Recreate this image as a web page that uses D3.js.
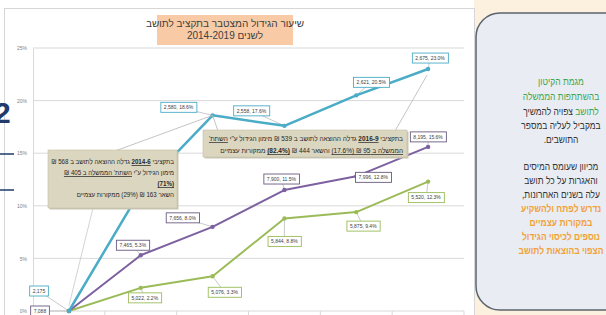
<!DOCTYPE html>
<html>
<head>
<meta charset="utf-8">
<script src="https://cdn.jsdelivr.net/npm/d3@7"></script>
<style>
body { margin: 0; background: #fff; }
svg { display: block; font-family: "Liberation Sans", Arial, sans-serif; }
</style>
</head>
<body>
<svg id="chart" width="606" height="315"></svg>
<script>
// ---- data ----
var years = ["2014", "2015", "2016", "2017", "2018", "2019"];
var yTicks = [0, 5, 10, 15, 20, 25];

// cumulative growth (%) per series
var tealPct   = [0, 11.5, 18.6, 17.6, 20.5, 23.0];
var purplePct = [0, 5.3, 8.0, 11.5, 12.8, 15.6];
var greenPct  = [0, 2.2, 3.3, 8.8, 9.4, 12.3];

// budget per resident (null = label not shown)
var tealSpend   = [2175, null, 2580, 2558, 2621, 2675];
var purpleSpend = [7088, 7465, 7656, 7900, 7996, 8195];
var greenSpend  = [null, 5022, 5076, 5844, 5875, 5520];

// label placement relative to its point (layout only)
var tealOff   = [[-30, -20], null, [-34, -8], [-33, -15], [15, -13], [2, -11]];
var purpleOff = [[-29, 0], [-8, -10], [-30, -9], [-3, -11], [17, 1], [0, -10]];
var greenOff  = [null, [4, 10], [12, 16], [0, 23], [7, 14], [-2, 16]];

var svg = d3.select("#chart");

/* slide background */
svg.append("rect").attr("width", 606).attr("height", 315).attr("fill", "#fff");
svg.append("rect").attr("x", 474).attr("y", 0).attr("width", 132).attr("height", 315)
	.attr("fill", "#fcf0de");

// white chart panel
svg.append("rect")
	.attr("x", 4.5).attr("y", 8.5).attr("width", 470).attr("height", 320)
	.attr("fill", "#fff").attr("stroke", "#d6d6d6");

// bits of the slide peeking in at the left
svg.append("text").attr("x", -6).attr("y", 123)
	.attr("font-size", 30).attr("font-weight", "bold").attr("fill", "#1f3a6b").text("2");
svg.selectAll(".stub").data([154, 190]).join("line")
	.attr("x1", 0).attr("x2", 14).attr("y1", d => d).attr("y2", d => d)
	.attr("stroke", "#1f3a6b").attr("stroke-width", 1.5);

// measure a string
function textWidth(str, fs, bold) {
	var t = svg.append("text").attr("font-size", fs).attr("direction", "rtl")
		.attr("font-weight", bold ? "bold" : null).text(str);
	var w = t.node().getComputedTextLength();
	t.remove();
	return w;
}

// one right-to-left line made of styled pieces, laid out piece by piece
function rtlLine(parent, parts, ax, ay, fs, align, sx) {
	var g = parent.append("g")
		.attr("transform", "translate(" + ax + "," + ay + ") scale(" + sx + ",1)");
	var gap = fs * 0.28;
	var items = parts.map(function(p) {
		var t = g.append("text")
			.attr("direction", "rtl").attr("text-anchor", "start")
			.attr("font-size", fs).attr("fill", p.c || "#262626")
			.text(p.t);
		if (p.b) t.attr("font-weight", "bold");
		if (p.u) t.attr("text-decoration", "underline");
		return { t: t, w: t.node().getComputedTextLength() };
	});
	var total = d3.sum(items, d => d.w) + gap * (items.length - 1);
	var cur = align == "center" ? total / 2 : 0;
	items.forEach(function(it) {
		it.t.attr("x", cur);
		cur -= it.w + gap;
	});
}

/* title */
svg.append("rect").attr("x", 157).attr("y", 15).attr("width", 136).attr("height", 30)
	.attr("fill", "#f8cba6");
var title = svg.append("text").attr("direction", "rtl").attr("text-anchor", "middle")
	.attr("font-size", 10).attr("fill", "#404040");
title.append("tspan").attr("x", 225).attr("y", 27).text("שיעור הגידול המצטבר בתקציב לתושב");
title.append("tspan").attr("x", 225).attr("y", 39).text("לשנים 2014-2019");

/* scales */
var x = d3.scaleBand().domain(years).range([33, 464]);
var cx = d => x(d) + x.bandwidth() / 2;
var y = d3.scaleLinear().domain([0, 25]).range([311, 48]);

// gridlines
svg.append("g").selectAll("line").data(yTicks.slice(1)).join("line")
	.attr("x1", 33).attr("x2", 464)
	.attr("y1", d => y(d)).attr("y2", d => y(d))
	.attr("stroke", "#d9d9d9").attr("stroke-width", 1);

var yAxis = svg.append("g").attr("transform", "translate(33,0)")
	.call(d3.axisLeft(y).tickValues(yTicks).tickFormat(d => d + "%").tickSize(0).tickPadding(6));
yAxis.select(".domain").attr("stroke", "#d9d9d9");
yAxis.selectAll("text").attr("font-size", 5).attr("fill", "#7f7f7f")
	.attr("font-family", "Liberation Sans, Arial, sans-serif");

// x axis line and category boundary ticks
svg.append("line").attr("x1", 33).attr("x2", 464).attr("y1", y(0)).attr("y2", y(0))
	.attr("stroke", "#d9d9d9");
svg.append("g").selectAll("line").data(years.slice(1).concat(["end"])).join("line")
	.attr("x1", d => d == "end" ? x.range()[1] : x(d))
	.attr("x2", d => d == "end" ? x.range()[1] : x(d))
	.attr("y1", y(0)).attr("y2", y(0) + 5)
	.attr("stroke", "#d9d9d9");

/* series */
var series = [
	{ pct: greenPct,  spend: greenSpend,  off: greenOff,  color: "#9bbb59", box: "#9bbb59", w: 2 },
	{ pct: purplePct, spend: purpleSpend, off: purpleOff, color: "#7d60a0", box: "#6a5a80", w: 2 },
	{ pct: tealPct,   spend: tealSpend,   off: tealOff,   color: "#4aacc6", box: "#4aacc6", w: 2.5 }
];

var line = d3.line()
	.x((d, i) => cx(years[i]))
	.y(d => y(d));

var fmt = d3.format(",");
function labelText(s, i) {
	if (s.spend[i] == null) return null;
	return i == 0 ? fmt(s.spend[i]) : fmt(s.spend[i]) + ", " + s.pct[i].toFixed(1) + "%";
}

// faint grey line behind the callout (from slide)
svg.append("line")
	.attr("x1", cx("2014")).attr("y1", y(0.5))
	.attr("x2", 93).attr("y2", 208)
	.attr("stroke", "#c8c8c8").attr("stroke-width", 0.8);

// leader lines
var leaders = svg.append("g");
series.forEach(function(s) {
	s.pct.forEach(function(v, i) {
		if (!labelText(s, i)) return;
		leaders.append("line")
			.attr("x1", cx(years[i])).attr("y1", y(v))
			.attr("x2", cx(years[i]) + s.off[i][0]).attr("y2", y(v) + s.off[i][1])
			.attr("stroke", "#a6a6a6").attr("stroke-width", 0.6);
	});
});

series.forEach(function(s) {
	svg.append("path").datum(s.pct)
		.attr("fill", "none")
		.attr("stroke", s.color)
		.attr("stroke-width", s.w)
		.attr("stroke-linejoin", "round")
		.attr("d", line);

	svg.append("g").selectAll("circle").data(s.pct).join("circle")
		.attr("cx", (d, i) => cx(years[i]))
		.attr("cy", d => y(d))
		.attr("r", 2.2)
		.attr("fill", s.color);
});

// data labels
series.forEach(function(s) {
	s.pct.forEach(function(v, i) {
		var t = labelText(s, i);
		if (!t) return;
		var g = svg.append("g")
			.attr("transform", "translate(" + (cx(years[i]) + s.off[i][0]) + "," + (y(v) + s.off[i][1]) + ")");
		var txt = g.append("text")
			.attr("text-anchor", "middle").attr("dy", "0.35em")
			.attr("font-size", 5).attr("fill", "#404040")
			.text(t);
		var bb = txt.node().getBBox();
		g.insert("rect", "text")
			.attr("x", bb.x - 3).attr("y", -5)
			.attr("width", bb.width + 6).attr("height", 10)
			.attr("fill", "#fff").attr("stroke", s.box).attr("stroke-width", 0.9);
	});
});

/* callouts */
function callout(box, lines, rightX, lineY, fs, fitWidth) {
	var grp = svg.append("g");
	grp.append("rect").attr("x", box[0] + 1.5).attr("y", box[1] + 1.5)
		.attr("width", box[2]).attr("height", box[3]).attr("fill", "#c9c5b3");
	grp.append("rect").attr("x", box[0]).attr("y", box[1])
		.attr("width", box[2]).attr("height", box[3])
		.attr("fill", "#dbd6c0").attr("stroke", "#c3bea6").attr("stroke-width", 0.6);
	var first = d3.sum(lines[0], p => textWidth(p.t, fs, p.b)) + fs * 0.28 * (lines[0].length - 1);
	var sx = Math.min(1, fitWidth / first);
	lines.forEach(function(parts, k) {
		rtlLine(grp, parts, rightX, lineY[k], fs, "right", sx);
	});
}

// grey pointers from the callouts
var pointers = svg.append("g").attr("stroke", "#bdbdbd").attr("stroke-width", 0.9);
pointers.append("line").attr("x1", 115).attr("y1", 151).attr("x2", cx("2016")).attr("y2", y(18.6));
pointers.append("line").attr("x1", 218).attr("y1", 131).attr("x2", cx("2016")).attr("y2", y(18.6));
pointers.append("line").attr("x1", 395).attr("y1", 131).attr("x2", cx("2019") - 1).attr("y2", y(23.0) + 6);

callout([48, 150, 129, 58], [
	[{ t: "בתקציבי" }, { t: "2014-6", b: 1, u: 1 }, { t: "גדלה ההוצאה לתושב ב 568 ₪" }],
	[{ t: "מימון הגידול ע\"י" }, { t: "השתת' הממשלה ב 405 ₪", u: 1 }],
	[{ t: "(71%)", b: 1, u: 1 }],
	[{ t: "השאר 163 ₪ (29%) ממקורות עצמיים" }]
], 174, [164, 175, 186, 197], 7.4, 123);

callout([203, 130, 204, 27], [
	[{ t: "בתקציבי" }, { t: "2016-9", b: 1, u: 1 }, { t: "גדלה ההוצאה לתושב ב 539 ₪ מימון הגידול ע\"י" }, { t: "השתת'", u: 1 }],
	[{ t: "הממשלה ב 95 ₪ (17.6%)", u: 1 }, { t: "והשאר 444 ₪" }, { t: "(82.4%)", b: 1, u: 1 }, { t: "ממקורות עצמיים" }]
], 403, [141, 153], 7.2, 194);

/* right-hand note */
svg.append("rect")
	.attr("x", 476).attr("y", 13).attr("width", 160).attr("height", 297).attr("rx", 24)
	.attr("fill", "#e9edf3").attr("stroke", "#5c636e").attr("stroke-width", 1.5);

var green = "#3ea650", dark = "#333", orange = "#f2a13a";
var notes = [
	[{ t: "מגמת הקיטון", c: green }],
	[{ t: "בהשתתפות הממשלה", c: green }],
	[{ t: "לתושב", c: green }, { t: "צפויה להמשיך", c: dark }],
	[{ t: "במקביל לעליה במספר", c: dark }],
	[{ t: "התושבים.", c: dark }],
	[{ t: "מכיוון שעומס המיסים", c: dark }],
	[{ t: "והאגרות על כל תושב", c: dark }],
	[{ t: "עלה בשנים האחרונות,", c: dark }],
	[{ t: "נדרש לפתח ולהשקיע", c: orange, b: 1 }],
	[{ t: "במקורות עצמיים", c: orange, b: 1 }],
	[{ t: "נוספים לכיסוי הגידול", c: orange, b: 1 }],
	[{ t: "הצפוי בהוצאות לתושב", c: orange, b: 1 }]
];
var noteY = [85, 100, 115, 129, 143, 170, 184, 198, 212, 226, 240, 254];
var noteFs = 10.5;
var noteSx = Math.min(1, 75 / textWidth("מכיוון שעומס המיסים", noteFs, false));
notes.forEach(function(parts, k) {
	rtlLine(svg, parts, 561, noteY[k], noteFs, "center", noteSx);
});
</script>
</body>
</html>
